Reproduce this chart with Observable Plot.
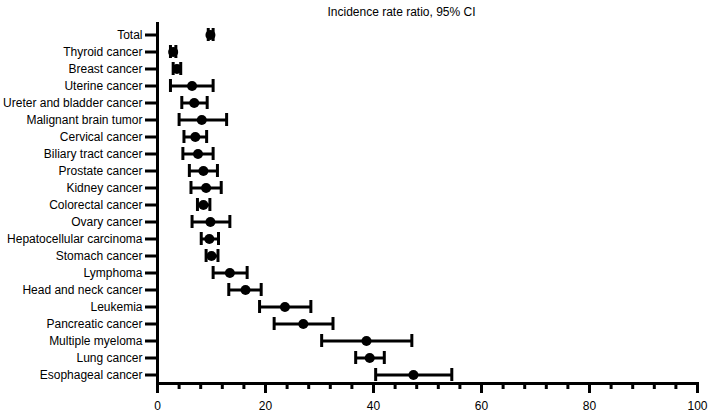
<!DOCTYPE html>
<html>
<head>
<meta charset="utf-8">
<script src="https://cdn.jsdelivr.net/npm/d3@7"></script>
<script src="https://cdn.jsdelivr.net/npm/@observablehq/plot@0.6"></script>
<style>
  html, body { margin: 0; padding: 0; background: #fff; }
  #chart svg { display: block; }
</style>
</head>
<body>
<div id="chart"></div>
<script>
const categories = [
  "Total", "Thyroid cancer", "Breast cancer", "Uterine cancer",
  "Ureter and bladder cancer", "Malignant brain tumor", "Cervical cancer",
  "Biliary tract cancer", "Prostate cancer", "Kidney cancer",
  "Colorectal cancer", "Ovary cancer", "Hepatocellular carcinoma",
  "Stomach cancer", "Lymphoma", "Head and neck cancer", "Leukemia",
  "Pancreatic cancer", "Multiple myeloma", "Lung cancer", "Esophageal cancer"
];
const estimates = [9.8, 2.9, 3.6, 6.4, 6.8, 8.2, 7.0, 7.5, 8.5, 9.0, 8.5, 9.8, 9.6, 10.0, 13.4, 16.3, 23.6, 27.0, 38.7, 39.3, 47.4];
const lower     = [9.4, 2.4, 2.9, 2.4, 4.5, 4.0, 4.9, 4.7, 5.9, 6.2, 7.4, 6.4, 8.1, 9.0, 10.3, 13.2, 18.9, 21.6, 30.4, 36.7, 40.4];
const upper     = [10.3, 3.4, 4.3, 10.3, 9.2, 12.8, 9.1, 10.3, 11.1, 11.8, 9.7, 13.4, 11.3, 11.2, 16.6, 19.2, 28.4, 32.5, 47.1, 42.0, 54.5];
const majorTicks = [0, 20, 40, 60, 80, 100];
const minorTicks = [0, 4, 8, 12, 16, 20, 24, 28, 32, 36, 40, 44, 48, 52, 56, 60, 64, 68, 72, 76, 80, 84, 88, 92, 96, 100];
const title = "Incidence rate ratio, 95% CI";

const data = categories.map((c, i) => ({name: c, est: estimates[i], lo: lower[i], hi: upper[i]}));

const chart = Plot.plot({
  width: 708,
  height: 412,
  marginLeft: 157,
  marginRight: 11,
  marginTop: 22,
  marginBottom: 29,
  style: {fontFamily: "'Liberation Sans', Arial, sans-serif", fontSize: "12px", color: "#000", background: "#fff"},
  x: {domain: [0, 100]},
  y: {type: "band", domain: categories, range: [25.5, 382.5], padding: 0},
  marks: [
    Plot.ruleY(data, {y: "name", x1: "lo", x2: "hi", stroke: "#000", strokeWidth: 3}),
    Plot.tickX(data, {y: "name", x: "lo", stroke: "#000", strokeWidth: 3, insetTop: 2, insetBottom: 2}),
    Plot.tickX(data, {y: "name", x: "hi", stroke: "#000", strokeWidth: 3, insetTop: 2, insetBottom: 2}),
    Plot.dot(data, {y: "name", x: "est", r: 5, fill: "#000", stroke: null}),
    Plot.axisX({ticks: minorTicks, tickSize: 6, tickFormat: () => "", strokeWidth: 3, label: null}),
    Plot.axisX({ticks: majorTicks, tickSize: 10, tickPadding: 8, strokeWidth: 3, label: null, fontSize: 12}),
    Plot.axisY({tickSize: 12, tickPadding: 3, strokeWidth: 3, label: null, fontSize: 12}),
    Plot.frame({anchor: "bottom", strokeWidth: 3}),
    Plot.ruleX([0], {strokeWidth: 3}),
    Plot.text([title], {frameAnchor: "top", dx: -26, dy: -15, fontSize: 12})
  ]
});
document.getElementById("chart").appendChild(chart);
</script>
</body>
</html>
